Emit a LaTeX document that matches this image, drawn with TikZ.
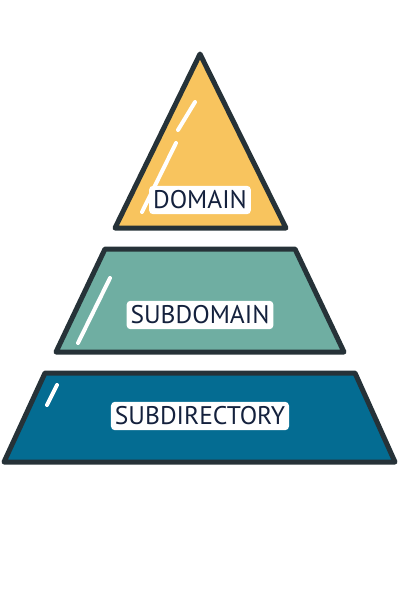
\documentclass[tikz,border=0pt]{standalone}
\usepackage{fontspec}
\setmainfont{PT Sans}
\definecolor{edge}{HTML}{263238}
\definecolor{gold}{HTML}{F8C45E}
\definecolor{teal}{HTML}{6FAEA2}
\definecolor{deepblue}{HTML}{046C92}
\definecolor{navy}{HTML}{14213D}
\begin{document}
\begin{tikzpicture}[x=1pt,y=-1pt,
  tier/.style={draw=edge,line width=5pt,line join=round},
  shine/.style={draw=white,line width=4pt,line cap=round},
  tag/.style={fill=white,rounded corners=4pt,text=navy,font=\fontsize{25.5}{25.5}\selectfont,inner xsep=4pt,inner ysep=5pt}]
\useasboundingbox (0,0) rectangle (400,600);
% top triangle
\draw[tier,fill=gold] (200,54) -- (286,228) -- (115,228) -- cycle;
\draw[shine] (195,102) -- (178,130);
\draw[shine] (176,143) -- (142,212);
\node[tag] (domain) at (200,200) {DOMAIN};
% middle trapezoid
\draw[tier,fill=teal] (105,249) -- (295,249) -- (344,352) -- (56,352) -- cycle;
\draw[shine] (110,278) -- (78,343);
\node[tag] (subdomain) at (200,315) {SUBDOMAIN};
% bottom trapezoid
\draw[tier,fill=deepblue] (45,373) -- (355,373) -- (395,462) -- (4,462) -- cycle;
\draw[shine] (57,385) -- (47,405);
\node[tag] (subdir) at (200,416) {SUBDIRECTORY};
\end{tikzpicture}
\end{document}
